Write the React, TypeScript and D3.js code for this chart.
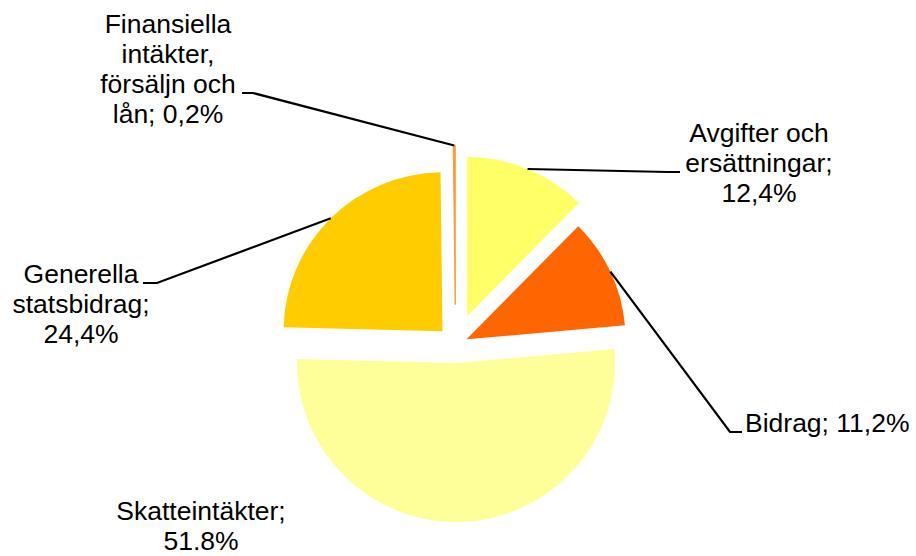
import React from "react";
import * as d3 from "d3";

// Chart data: share of income (%) per source
const categories = [
  "Avgifter och ersättningar",
  "Bidrag",
  "Skatteintäkter",
  "Generella statsbidrag",
  "Finansiella intäkter, försäljn och lån",
];
const shares = [12.4, 11.2, 51.8, 24.4, 0.2];
const labelTexts = [
  ["Avgifter och", "ersättningar;", "12,4%"],
  ["Bidrag; 11,2%"],
  ["Skatteintäkter;", "51.8%"],
  ["Generella", "statsbidrag;", "24,4%"],
  ["Finansiella", "intäkter,", "försäljn och", "lån; 0,2%"],
];

// Styling / layout
const WIDTH = 916;
const HEIGHT = 556;
const CX = 455.5;
const CY = 344.5;
const RADIUS = 159;
const colors = ["#FFFF66", "#FF6600", "#FFFF99", "#FFCC00", "#FF9933"];
const explode = [30.7, 12.2, 18.5, 18.5, 40];
const FONT_SIZE = 26.5;
const LINE_H = 30;

// label anchor (x, first baseline), text-anchor, and leader elbow/end (null = no leader)
const labelLayout: {
  x: number;
  y: number;
  anchor: "start" | "middle" | "end";
  elbow: [number, number] | null;
  end: [number, number] | null;
}[] = [
  { x: 759, y: 142, anchor: "middle", elbow: [668, 172], end: [680, 172] },
  { x: 745, y: 432, anchor: "start", elbow: [730, 432], end: [742, 432] },
  { x: 201, y: 520, anchor: "middle", elbow: null, end: null },
  { x: 81, y: 283, anchor: "middle", elbow: [157, 283], end: [143, 283] },
  { x: 168, y: 33, anchor: "middle", elbow: [253, 93], end: [242, 93] },
];

interface Slice {
  name: string;
  value: number;
  index: number;
}

const App = () => {
  const data: Slice[] = categories.map((name, i) => ({ name, value: shares[i], index: i }));

  const pie = d3
    .pie<Slice>()
    .value((d) => d.value)
    .sort(null)
    .startAngle(0)
    .endAngle(Math.PI * 2);

  const arc = d3.arc<d3.PieArcDatum<Slice>>().innerRadius(0).outerRadius(RADIUS);

  const arcs = pie(data);

  return (
    <div style={{ position: "fixed", left: 0, top: 0 }}>
      <svg width={WIDTH} height={HEIGHT} style={{ display: "block", background: "#fff" }}>
        <g transform={`translate(${CX},${CY})`}>
          {arcs.map((a) => {
            const mid = (a.startAngle + a.endAngle) / 2;
            const off = explode[a.index];
            const dx = Math.sin(mid) * off;
            const dy = -Math.cos(mid) * off;
            return (
              <path
                key={a.data.name}
                d={arc(a) || ""}
                transform={`translate(${dx},${dy})`}
                fill={colors[a.index]}
                stroke={a.index === 4 ? colors[a.index] : "none"}
                strokeWidth={a.index === 4 ? 1 : 0}
              />
            );
          })}
        </g>

        {/* leader lines */}
        {arcs.map((a) => {
          const lay = labelLayout[a.index];
          if (!lay.elbow || !lay.end) return null;
          const mid = (a.startAngle + a.endAngle) / 2;
          const off = explode[a.index];
          const sx = CX + Math.sin(mid) * (off + RADIUS);
          const sy = CY - Math.cos(mid) * (off + RADIUS);
          const pts: [number, number][] = [[sx, sy], lay.elbow, lay.end];
          return (
            <path
              key={"l" + a.data.name}
              d={d3.line()(pts) || ""}
              fill="none"
              stroke="#000"
              strokeWidth={2.2}
            />
          );
        })}

        {/* labels */}
        {labelTexts.map((lines, i) => {
          const lay = labelLayout[i];
          return (
            <text
              key={"t" + i}
              x={lay.x}
              y={lay.y}
              textAnchor={lay.anchor}
              fontFamily="'Liberation Sans', Arial, sans-serif"
              fontSize={FONT_SIZE}
              fill="#000"
            >
              {lines.map((ln, j) => (
                <tspan key={j} x={lay.x} y={lay.y + j * LINE_H}>
                  {ln}
                </tspan>
              ))}
            </text>
          );
        })}
      </svg>
    </div>
  );
};

export default App;
